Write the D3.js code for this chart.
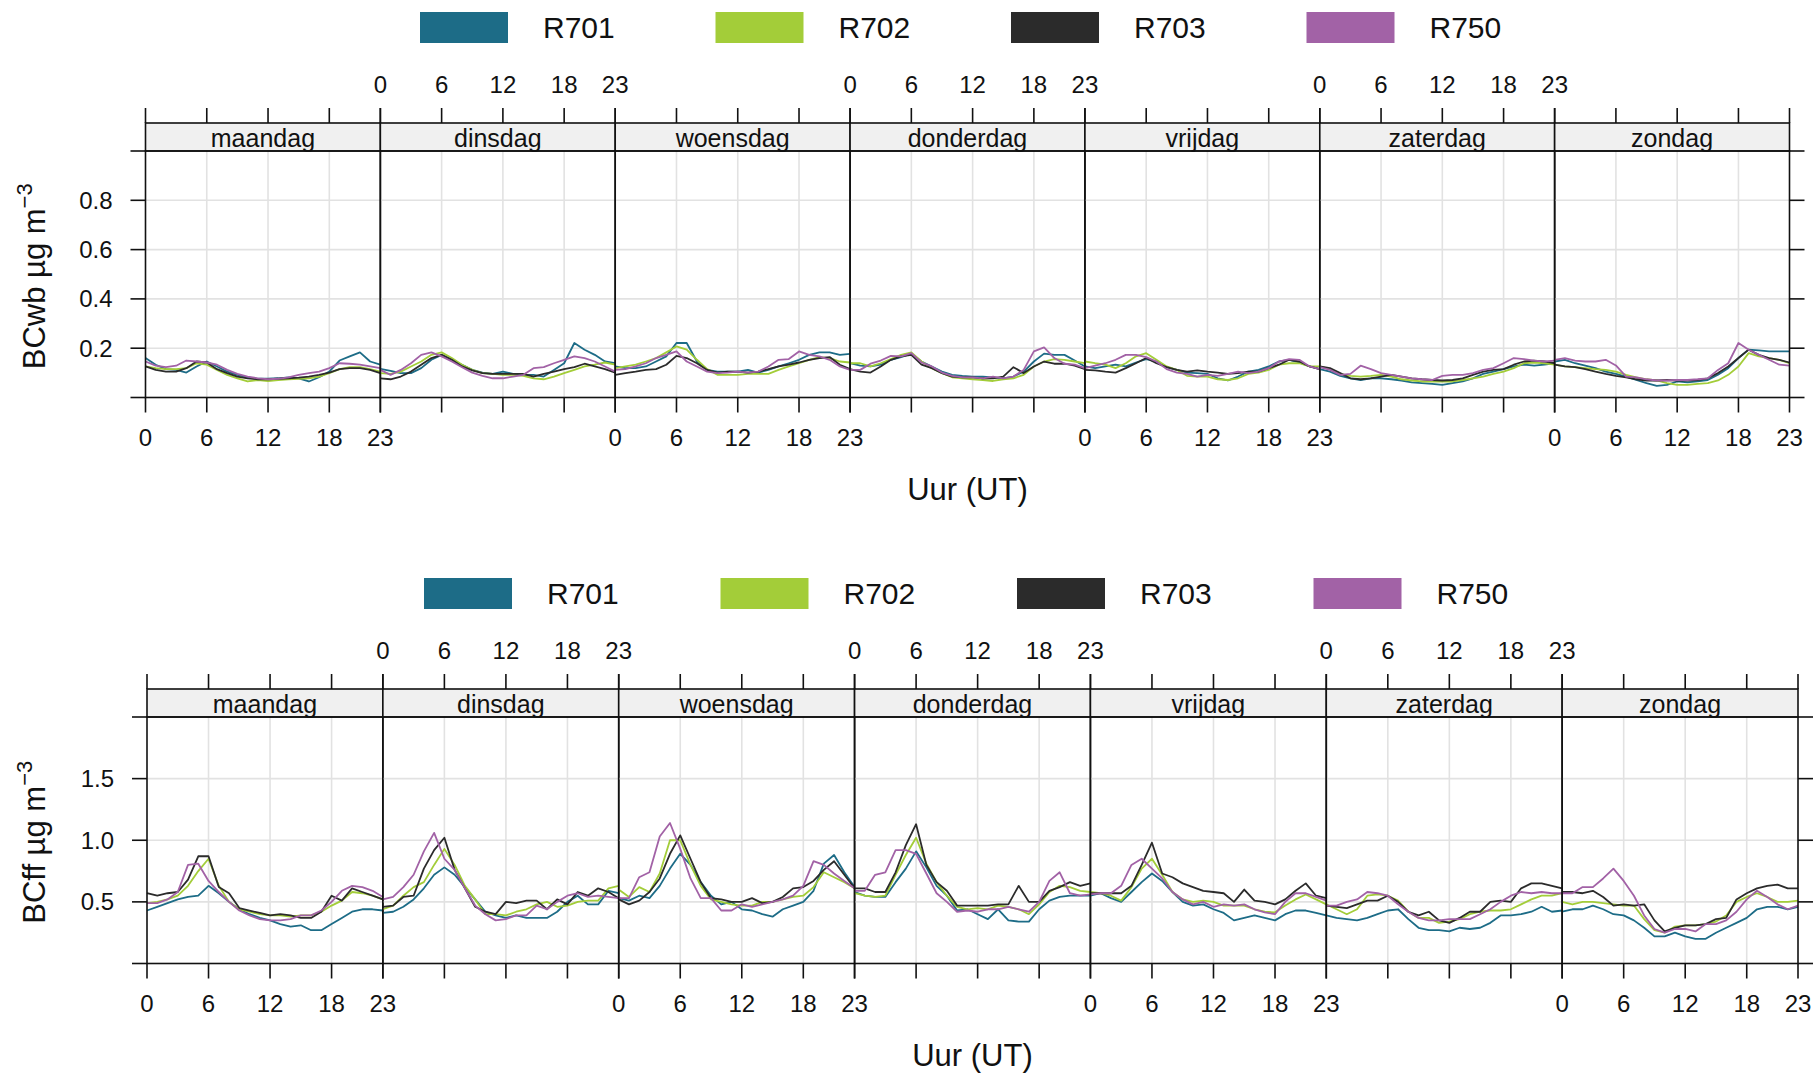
<!DOCTYPE html>
<html>
<head>
<meta charset="utf-8">
<script src="https://cdn.jsdelivr.net/npm/d3@7"></script>
<style>
  html, body { margin: 0; padding: 0; background: #ffffff; }
  svg { display: block; font-family: "Liberation Sans", Arial, Helvetica, sans-serif; }
</style>
</head>
<body>
<svg id="chart" width="1816" height="1075"></svg>
<script>
// ---- categories, ticks and series ----
const days = ["maandag", "dinsdag", "woensdag", "donderdag", "vrijdag", "zaterdag", "zondag"];
const hours = d3.range(24);
const stations = ["R701", "R702", "R703", "R750"];
const stationColors = ["#1d6c87", "#a3cd39", "#2b2b2b", "#a262a6"];
const hourTicks = [0, 6, 12, 18, 23];
const hourGrid = [6, 12, 18];

const wbTicks = [0, 0.2, 0.4, 0.6, 0.8, 1.0];
const wbTickLabels = ["", "0.2", "0.4", "0.6", "0.8", ""];
const ffTicks = [0, 0.5, 1.0, 1.5, 2.0];
const ffTickLabels = ["", "0.5", "1.0", "1.5", ""];

// BCwb (µg m-3), one row of 24 hourly means per weekday
const wbR701 = [
  [.160,.133,.115,.112,.101,.126,.146,.126,.105,.092,.082,.076,.076,.078,.082,.078,.065,.082,.105,.150,.167,.183,.146,.133],
  [.116,.108,.099,.099,.119,.153,.173,.153,.133,.112,.101,.096,.105,.096,.092,.092,.085,.112,.139,.221,.194,.173,.146,.139],
  [.126,.119,.119,.126,.146,.167,.221,.221,.146,.112,.105,.105,.105,.112,.101,.112,.126,.139,.153,.173,.183,.183,.173,.177],
  [.139,.129,.126,.133,.153,.164,.178,.146,.126,.105,.092,.088,.085,.085,.082,.078,.085,.105,.146,.178,.173,.173,.150,.126],
  [.126,.119,.126,.133,.126,.142,.156,.146,.123,.112,.101,.099,.096,.078,.069,.085,.105,.112,.126,.146,.153,.142,.126,.115],
  [.115,.105,.088,.078,.071,.078,.078,.074,.069,.061,.058,.055,.051,.058,.065,.078,.096,.105,.115,.126,.133,.129,.133,.139],
  [.146,.153,.139,.129,.119,.105,.096,.085,.071,.058,.047,.051,.065,.061,.065,.071,.092,.119,.160,.194,.191,.187,.187,.187]
];
const wbR702 = [
  [.126,.119,.115,.115,.119,.139,.133,.112,.092,.078,.065,.071,.067,.071,.074,.076,.078,.085,.099,.115,.123,.123,.115,.105],
  [.099,.096,.105,.126,.146,.173,.183,.160,.133,.112,.099,.096,.092,.092,.088,.078,.074,.085,.099,.112,.126,.133,.142,.133],
  [.119,.126,.133,.146,.160,.183,.207,.194,.153,.115,.092,.092,.092,.096,.096,.096,.112,.126,.139,.153,.164,.160,.146,.142],
  [.139,.139,.126,.139,.156,.173,.183,.146,.119,.099,.082,.078,.074,.071,.067,.074,.078,.092,.126,.146,.156,.153,.146,.139],
  [.146,.139,.133,.119,.139,.167,.180,.153,.126,.112,.088,.085,.085,.074,.071,.078,.096,.101,.112,.133,.139,.139,.126,.126],
  [.126,.115,.096,.088,.085,.088,.092,.085,.074,.069,.065,.065,.065,.065,.071,.078,.085,.096,.105,.119,.139,.142,.139,.133],
  [.133,.126,.123,.119,.115,.112,.105,.092,.082,.074,.069,.058,.051,.051,.055,.058,.069,.092,.126,.180,.167,.160,.153,.139]
];
const wbR703 = [
  [.126,.112,.105,.105,.119,.146,.142,.115,.099,.085,.078,.074,.074,.076,.078,.081,.085,.092,.101,.115,.119,.119,.112,.099],
  [.078,.074,.085,.105,.133,.160,.173,.153,.126,.110,.099,.096,.096,.096,.096,.085,.096,.105,.115,.123,.137,.126,.115,.101],
  [.092,.099,.105,.112,.115,.133,.169,.160,.139,.112,.101,.105,.105,.101,.105,.115,.126,.133,.142,.153,.160,.164,.133,.115],
  [.115,.105,.101,.126,.153,.167,.173,.133,.119,.099,.085,.082,.082,.078,.078,.085,.123,.099,.126,.146,.137,.137,.129,.115],
  [.112,.110,.105,.101,.119,.139,.160,.139,.123,.112,.105,.110,.105,.101,.096,.099,.105,.105,.119,.133,.153,.146,.126,.115],
  [.126,.119,.099,.078,.074,.078,.085,.092,.085,.078,.074,.071,.069,.071,.078,.092,.105,.112,.115,.133,.146,.150,.146,.139],
  [.133,.126,.123,.115,.105,.096,.088,.082,.074,.069,.069,.071,.069,.069,.071,.078,.099,.126,.160,.194,.173,.160,.153,.142]
];
const wbR750 = [
  [.146,.129,.123,.129,.150,.146,.142,.133,.112,.096,.085,.078,.074,.076,.082,.092,.099,.105,.119,.139,.137,.133,.126,.119],
  [.112,.092,.112,.139,.173,.183,.167,.146,.123,.101,.088,.078,.078,.085,.092,.119,.123,.139,.153,.167,.160,.146,.126,.105],
  [.112,.115,.126,.139,.160,.173,.187,.146,.126,.105,.099,.101,.105,.101,.105,.126,.153,.156,.187,.173,.167,.153,.126,.112],
  [.112,.112,.137,.150,.169,.167,.180,.142,.126,.101,.088,.082,.082,.078,.085,.078,.085,.112,.187,.203,.160,.137,.133,.119],
  [.119,.129,.139,.153,.173,.173,.164,.146,.115,.101,.096,.085,.092,.088,.096,.105,.099,.105,.119,.146,.156,.153,.126,.115],
  [.123,.112,.092,.096,.129,.115,.099,.092,.085,.078,.074,.071,.088,.092,.092,.099,.112,.119,.139,.160,.156,.150,.146,.150],
  [.153,.160,.150,.146,.146,.153,.130,.085,.082,.074,.069,.069,.071,.071,.074,.078,.112,.139,.221,.194,.173,.153,.133,.129]
];

// BCff (µg m-3), one row of 24 hourly means per weekday
const ffR701 = [
  [.43,.46,.49,.52,.54,.55,.63,.57,.50,.44,.40,.37,.35,.32,.30,.31,.27,.27,.32,.37,.42,.44,.44,.43],
  [.41,.42,.46,.52,.61,.72,.78,.72,.62,.52,.42,.39,.37,.39,.37,.37,.37,.42,.50,.55,.48,.48,.59,.57],
  [.53,.51,.55,.53,.63,.77,.89,.80,.66,.55,.48,.50,.44,.43,.40,.38,.44,.47,.50,.59,.81,.88,.74,.62],
  [.58,.55,.54,.54,.66,.77,.91,.78,.63,.55,.43,.44,.40,.36,.44,.35,.34,.34,.44,.51,.54,.55,.55,.55],
  [.55,.57,.53,.50,.58,.66,.73,.67,.58,.50,.47,.48,.44,.41,.35,.37,.39,.37,.35,.40,.43,.43,.41,.39],
  [.39,.37,.36,.35,.37,.40,.43,.44,.36,.29,.27,.27,.26,.29,.28,.29,.33,.39,.39,.40,.42,.46,.42,.43],
  [.42,.44,.44,.47,.44,.40,.39,.35,.29,.22,.22,.25,.22,.20,.20,.25,.29,.33,.37,.44,.46,.46,.44,.46]
];
const ffR702 = [
  [.49,.50,.52,.55,.63,.75,.85,.63,.50,.44,.42,.40,.39,.39,.38,.39,.39,.42,.47,.51,.58,.57,.55,.52],
  [.44,.47,.55,.62,.66,.80,.93,.80,.63,.52,.40,.40,.39,.42,.44,.48,.50,.46,.47,.50,.51,.51,.61,.63],
  [.60,.54,.62,.58,.73,1.00,1.00,.80,.63,.52,.50,.48,.47,.47,.50,.50,.52,.54,.55,.62,.74,.70,.66,.61],
  [.57,.55,.54,.55,.72,.88,1.02,.81,.66,.55,.46,.44,.45,.44,.47,.46,.44,.40,.48,.58,.63,.62,.59,.58],
  [.58,.57,.55,.51,.62,.77,.85,.72,.58,.52,.50,.51,.50,.47,.47,.47,.44,.42,.415,.47,.52,.56,.52,.48],
  [.48,.44,.40,.44,.55,.56,.55,.51,.42,.37,.37,.33,.34,.36,.40,.42,.43,.43,.44,.48,.52,.55,.55,.57],
  [.50,.48,.50,.50,.49,.48,.47,.47,.36,.27,.25,.30,.31,.31,.32,.34,.39,.50,.54,.57,.54,.50,.50,.51]
];
const ffR703 = [
  [.57,.55,.57,.58,.68,.87,.87,.62,.57,.45,.43,.41,.39,.40,.39,.37,.37,.42,.55,.51,.61,.58,.55,.52],
  [.46,.47,.54,.55,.77,.92,1.02,.76,.61,.46,.42,.40,.50,.49,.51,.51,.44,.52,.48,.58,.55,.61,.58,.53],
  [.52,.48,.51,.58,.69,.89,1.04,.85,.66,.53,.52,.50,.50,.53,.49,.50,.54,.61,.62,.67,.76,.83,.72,.61],
  [.61,.61,.58,.58,.74,.96,1.13,.80,.66,.59,.47,.47,.47,.47,.48,.48,.63,.50,.50,.59,.62,.66,.63,.65],
  [.57,.57,.57,.57,.63,.80,.98,.73,.70,.65,.62,.59,.58,.57,.50,.60,.51,.50,.48,.52,.59,.65,.55,.53],
  [.47,.46,.45,.48,.51,.51,.55,.50,.42,.39,.42,.35,.33,.37,.42,.42,.50,.51,.50,.61,.65,.65,.63,.61],
  [.58,.58,.57,.59,.54,.47,.48,.47,.48,.35,.26,.29,.31,.31,.32,.36,.37,.52,.57,.61,.63,.64,.61,.61]
];
const ffR750 = [
  [.49,.49,.52,.58,.80,.81,.67,.58,.50,.43,.39,.36,.35,.35,.36,.39,.39,.43,.50,.59,.63,.62,.59,.54],
  [.52,.54,.62,.72,.91,1.06,.85,.76,.61,.47,.40,.35,.36,.39,.39,.47,.44,.50,.55,.57,.54,.55,.54,.53],
  [.53,.53,.70,.74,1.03,1.14,.93,.69,.53,.53,.43,.43,.48,.46,.48,.50,.52,.55,.63,.83,.80,.73,.67,.61],
  [.59,.59,.72,.74,.92,.92,.89,.73,.57,.50,.42,.43,.42,.44,.44,.46,.44,.42,.50,.67,.74,.57,.55,.56],
  [.56,.57,.57,.63,.80,.85,.77,.69,.58,.52,.48,.50,.46,.48,.47,.48,.44,.415,.40,.50,.57,.57,.54,.51],
  [.47,.47,.50,.52,.58,.57,.55,.48,.42,.37,.35,.35,.36,.36,.36,.40,.44,.50,.55,.58,.57,.58,.57,.57],
  [.57,.57,.62,.62,.69,.77,.67,.55,.39,.28,.25,.28,.28,.26,.32,.32,.35,.42,.52,.59,.54,.48,.44,.47]
];

// ---- drawing ----
const svg = d3.select("#chart");
const GRID = "#e2e2e2";
const INK = "#111111";

function drawChart(cfg) {
  const g = svg.append("g").attr("transform", `translate(0,${cfg.dy})`);
  const stripTop = 123, plotTop = 151, plotBottom = 397.5;
  const tickLen = 15;
  const pw = (cfg.right - cfg.left) / days.length;
  const y = d3.scaleLinear().domain(cfg.yDomain).range([plotBottom, plotTop]);

  // legend across the top
  const leg = g.append("g");
  stations.forEach((s, i) => {
    const lx = cfg.legendX + i * cfg.legendStep;
    leg.append("rect").attr("x", lx).attr("y", 12).attr("width", 88).attr("height", 31)
      .attr("fill", stationColors[i]);
    leg.append("text").attr("x", lx + 123).attr("y", 38).attr("font-size", 30)
      .attr("fill", INK).text(s);
  });

  const line = d3.line();

  days.forEach((day, di) => {
    const x0 = cfg.left + di * pw;
    const x = d3.scaleLinear().domain([0, 23]).range([x0, x0 + pw]);
    const p = g.append("g");

    // reference grid
    p.selectAll(".vg").data(hourGrid).join("line")
      .attr("x1", d => x(d)).attr("x2", d => x(d))
      .attr("y1", plotTop).attr("y2", plotBottom)
      .attr("stroke", GRID).attr("stroke-width", 1.6);
    p.selectAll(".hg").data(cfg.yTicks.slice(1, -1)).join("line")
      .attr("x1", x0).attr("x2", x0 + pw)
      .attr("y1", d => y(d)).attr("y2", d => y(d))
      .attr("stroke", GRID).attr("stroke-width", 1.6);

    // series
    cfg.series.forEach((rows, si) => {
      p.append("path")
        .attr("d", line(hours.map(h => [x(h), y(rows[di][h])])))
        .attr("fill", "none")
        .attr("stroke", stationColors[si])
        .attr("stroke-width", 1.8)
        .attr("stroke-linejoin", "round");
    });

    // strip with weekday name
    p.append("rect").attr("x", x0).attr("y", stripTop).attr("width", pw)
      .attr("height", plotTop - stripTop)
      .attr("fill", "#f0f0f0").attr("stroke", INK).attr("stroke-width", 1.6);
    p.append("text").attr("x", x0 + pw / 2).attr("y", 146.5)
      .attr("text-anchor", "middle").attr("font-size", 25).attr("fill", INK).text(day);

    // panel frame
    p.append("rect").attr("x", x0).attr("y", plotTop).attr("width", pw)
      .attr("height", plotBottom - plotTop)
      .attr("fill", "none").attr("stroke", INK).attr("stroke-width", 1.6);

    // hour ticks above the strip and below the panel
    p.selectAll(".tt").data(hourTicks).join("line")
      .attr("x1", d => x(d)).attr("x2", d => x(d))
      .attr("y1", stripTop - tickLen).attr("y2", stripTop)
      .attr("stroke", INK).attr("stroke-width", 1.6);
    p.selectAll(".bt").data(hourTicks).join("line")
      .attr("x1", d => x(d)).attr("x2", d => x(d))
      .attr("y1", plotBottom).attr("y2", plotBottom + tickLen)
      .attr("stroke", INK).attr("stroke-width", 1.6);

    // alternating hour labels: bottom for odd panels, top for even panels
    const labelY = di % 2 === 0 ? 446 : 93;
    p.selectAll(".hl").data(hourTicks).join("text")
      .attr("x", d => x(d)).attr("y", labelY)
      .attr("text-anchor", "middle").attr("font-size", 24).attr("fill", INK)
      .text(d => d);
  });

  // value ticks left and right
  const ax = g.append("g");
  ax.selectAll(".lt").data(cfg.yTicks).join("line")
    .attr("x1", cfg.left - tickLen).attr("x2", cfg.left)
    .attr("y1", d => y(d)).attr("y2", d => y(d))
    .attr("stroke", INK).attr("stroke-width", 1.6);
  ax.selectAll(".rt").data(cfg.yTicks).join("line")
    .attr("x1", cfg.right).attr("x2", cfg.right + tickLen)
    .attr("y1", d => y(d)).attr("y2", d => y(d))
    .attr("stroke", INK).attr("stroke-width", 1.6);
  ax.selectAll(".ll").data(cfg.yTicks).join("text")
    .attr("x", cfg.left - 33).attr("y", d => y(d) + 8.5)
    .attr("text-anchor", "end").attr("font-size", 24).attr("fill", INK)
    .text((d, i) => cfg.yTickLabels[i]);

  // axis titles
  g.append("text").attr("x", (cfg.left + cfg.right) / 2).attr("y", 500)
    .attr("text-anchor", "middle").attr("font-size", 31).attr("fill", INK)
    .text("Uur (UT)");
  const yl = g.append("text")
    .attr("transform", `translate(45,${(plotTop + plotBottom) / 2 + 2}) rotate(-90)`)
    .attr("text-anchor", "middle").attr("font-size", 31).attr("fill", INK);
  yl.append("tspan").text(cfg.yTitle + " µg m");
  yl.append("tspan").attr("dy", -13).attr("font-size", 22).text("\u22123");
}

drawChart({
  dy: 0, left: 145.5, right: 1789.5,
  legendX: 420, legendStep: 295.5,
  yDomain: [0, 1], yTicks: wbTicks, yTickLabels: wbTickLabels,
  yTitle: "BCwb",
  series: [wbR701, wbR702, wbR703, wbR750]
});

drawChart({
  dy: 566, left: 147, right: 1798,
  legendX: 424, legendStep: 296.5,
  yDomain: [0, 2], yTicks: ffTicks, yTickLabels: ffTickLabels,
  yTitle: "BCff",
  series: [ffR701, ffR702, ffR703, ffR750]
});
</script>
</body>
</html>
